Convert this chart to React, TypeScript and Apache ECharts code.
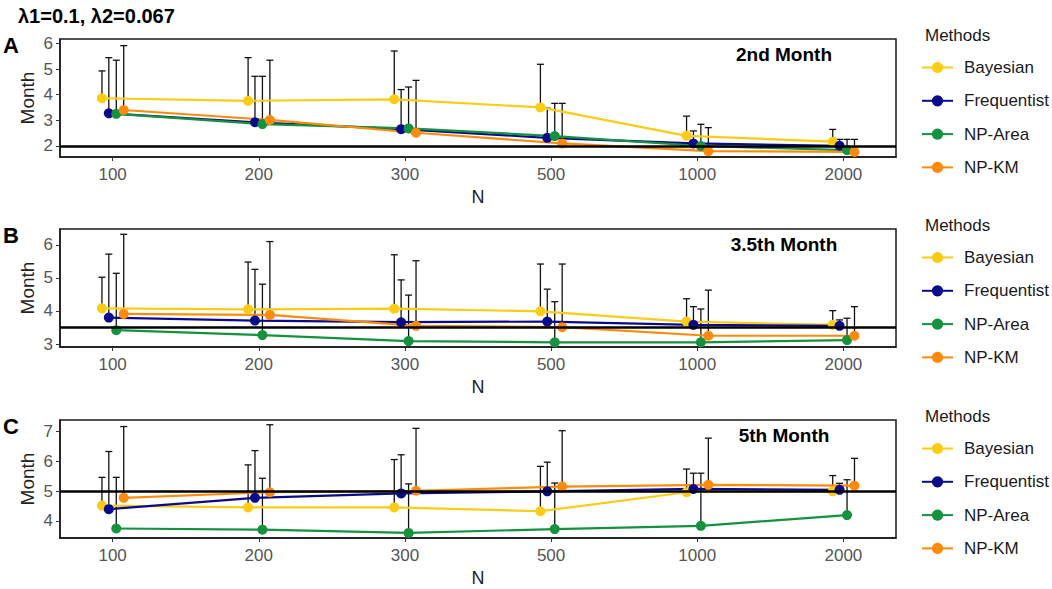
import React, { useEffect, useRef } from "react";
import * as echarts from "echarts";

const CATEGORIES = ["100", "200", "300", "500", "1000", "2000"];
const METHODS = ["Bayesian", "Frequentist", "NP-Area", "NP-KM"];
const COLORS = ["#FCCB14", "#0A0A8C", "#14923E", "#FF8A0A"];
const DODGE = [-0.073, -0.026, 0.025, 0.076];

const PANEL_TITLES = ["2nd Month", "3.5th Month", "5th Month"];
const PANEL_LETTERS = ["A", "B", "C"];
const TRUE_VALUES = [2, 3.5, 5];
const Y_TICKS_A = [2, 3, 4, 5, 6];
const Y_TICKS_B = [3, 4, 5, 6];
const Y_TICKS_C = [4, 5, 6, 7];
const Y_RANGE_A = [1.56, 6.18];
const Y_RANGE_B = [2.91, 6.48];
const Y_RANGE_C = [3.42, 7.39];

// Panel A (2nd month)
const A_BAY = [3.86, 3.76, 3.82, 3.5, 2.39, 2.16];
const A_FREQ = [3.27, 2.92, 2.65, 2.31, 2.09, 2.0];
const A_AREA = [3.25, 2.85, 2.68, 2.38, 1.99, 1.83];
const A_KM = [3.4, 3.01, 2.51, 2.09, 1.79, 1.76];
const A_BAY_UP = [4.93, 5.45, 5.71, 5.19, 3.16, 2.64];
const A_FREQ_UP = [5.45, 4.72, 4.2, 3.47, 2.58, 2.25];
const A_AREA_UP = [5.35, 4.72, 4.3, 3.66, 2.84, 2.25];
const A_KM_UP = [5.92, 5.35, 4.56, 3.66, 2.71, 2.25];

// Panel B (3.5th month)
const B_BAY = [4.08, 4.05, 4.07, 3.99, 3.68, 3.58];
const B_FREQ = [3.8, 3.71, 3.66, 3.68, 3.58, 3.55];
const B_AREA = [3.42, 3.27, 3.09, 3.05, 3.05, 3.12];
const B_KM = [3.91, 3.88, 3.55, 3.51, 3.25, 3.25];
const B_BAY_UP = [5.02, 5.48, 5.7, 5.42, 4.37, 4.01];
const B_FREQ_UP = [5.72, 5.26, 4.94, 4.66, 4.13, 3.73];
const B_AREA_UP = [5.14, 4.81, 4.48, 4.28, 4.06, 3.78];
const B_KM_UP = [6.32, 6.1, 5.52, 5.42, 4.63, 4.13];

// Panel C (5th month)
const C_BAY = [4.51, 4.45, 4.45, 4.32, 4.96, 4.99];
const C_FREQ = [4.39, 4.77, 4.92, 4.99, 5.07, 5.04];
const C_AREA = [3.74, 3.7, 3.59, 3.72, 3.83, 4.19];
const C_KM = [4.77, 4.96, 5.01, 5.15, 5.21, 5.18];
const C_BAY_UP = [5.46, 5.88, 6.06, 5.83, 5.74, 5.52];
const C_FREQ_UP = [6.33, 6.36, 6.22, 5.97, 5.6, 5.26];
const C_AREA_UP = [5.46, 5.43, 5.24, 5.27, 5.6, 5.38];
const C_KM_UP = [7.17, 7.23, 7.11, 7.03, 6.78, 6.1];

const PANELS = [
  { means: [A_BAY, A_FREQ, A_AREA, A_KM], ups: [A_BAY_UP, A_FREQ_UP, A_AREA_UP, A_KM_UP], ticks: Y_TICKS_A, range: Y_RANGE_A },
  { means: [B_BAY, B_FREQ, B_AREA, B_KM], ups: [B_BAY_UP, B_FREQ_UP, B_AREA_UP, B_KM_UP], ticks: Y_TICKS_B, range: Y_RANGE_B },
  { means: [C_BAY, C_FREQ, C_AREA, C_KM], ups: [C_BAY_UP, C_FREQ_UP, C_AREA_UP, C_KM_UP], ticks: Y_TICKS_C, range: Y_RANGE_C },
];

const FONT = "'Liberation Sans', Arial, sans-serif";
const GRID_TOPS = [39, 229, 420];
const GRID_H = 118;
const GRID_LEFT = 60;
const GRID_RIGHT_X = 896;

export default function App() {
  const ref = useRef<HTMLDivElement>(null);
  useEffect(() => {
    document.body.style.margin = "0";
    if (!ref.current) return;
    const chart = echarts.init(ref.current, undefined, { renderer: "svg" });

    const grids: any[] = [];
    const xAxes: any[] = [];
    const yAxes: any[] = [];
    const series: any[] = [];
    const legends: any[] = [];
    const graphics: any[] = [];

    graphics.push({
      type: "text",
      left: 18,
      top: 6,
      style: { text: "λ1=0.1, λ2=0.067", font: `bold 20px ${FONT}`, fill: "#000" },
    });

    PANELS.forEach((p, pi) => {
      const top = GRID_TOPS[pi];
      grids.push({
        left: GRID_LEFT,
        top,
        width: GRID_RIGHT_X - GRID_LEFT,
        height: GRID_H,
        show: true,
        borderColor: "#1a1a1a",
        borderWidth: 1.5,
        backgroundColor: "transparent",
      });
      xAxes.push({
        type: "value",
        gridIndex: pi,
        min: -0.36,
        max: 5.36,
        splitLine: { show: false },
        axisLine: { show: true, onZero: false, lineStyle: { color: "#1a1a1a", width: 1.5 } },
        axisTick: { show: true, length: 4, customValues: [0, 1, 2, 3, 4, 5], lineStyle: { color: "#333" } },
        axisLabel: {
          customValues: [0, 1, 2, 3, 4, 5],
          formatter: (v: number) => CATEGORIES[Math.round(v)] ?? "",
          color: "#555",
          fontSize: 17,
          fontFamily: FONT,
          margin: 9,
        },
      });
      yAxes.push({
        type: "value",
        gridIndex: pi,
        min: p.range[0],
        max: p.range[1],
        splitLine: { show: false },
        axisLine: { show: true, onZero: false, lineStyle: { color: "#1a1a1a", width: 1.5 } },
        axisTick: { show: true, length: 4, customValues: p.ticks, lineStyle: { color: "#333" } },
        axisLabel: {
          customValues: p.ticks,
          formatter: (v: number) => String(Math.round(v)),
          color: "#555",
          fontSize: 17,
          fontFamily: FONT,
          margin: 7,
        },
      });

      // reference line
      series.push({
        type: "line",
        name: "ref" + pi,
        xAxisIndex: pi,
        yAxisIndex: pi,
        data: [],
        silent: true,
        z: 1,
        markLine: {
          silent: true,
          symbol: "none",
          label: { show: false },
          lineStyle: { color: "#000", width: 2.6, type: "solid" },
          data: [{ yAxis: TRUE_VALUES[pi] }],
        },
      });

      // error bars
      const errData: number[][] = [];
      METHODS.forEach((_, mi) => {
        CATEGORIES.forEach((_, ci) => {
          errData.push([ci + DODGE[mi], p.means[mi][ci], p.ups[mi][ci]]);
        });
      });
      series.push({
        type: "custom",
        name: "err" + pi,
        xAxisIndex: pi,
        yAxisIndex: pi,
        z: 2,
        silent: true,
        encode: { x: 0, y: [1, 2] },
        data: errData,
        renderItem: (params: any, api: any) => {
          const x = api.value(0);
          const lo = api.coord([x, api.value(1)]);
          const hi = api.coord([x, api.value(2)]);
          const st = { stroke: "#111", lineWidth: 1.3 };
          return {
            type: "group",
            children: [
              { type: "line", shape: { x1: lo[0], y1: lo[1], x2: hi[0], y2: hi[1] }, style: st },
              { type: "line", shape: { x1: hi[0] - 3.5, y1: hi[1], x2: hi[0] + 3.5, y2: hi[1] }, style: st },
            ],
          };
        },
      });

      METHODS.forEach((m, mi) => {
        series.push({
          type: "line",
          name: m,
          xAxisIndex: pi,
          yAxisIndex: pi,
          z: 3,
          color: COLORS[mi],
          symbol: "circle",
          symbolSize: 10,
          lineStyle: { width: 2.2, color: COLORS[mi] },
          itemStyle: { color: COLORS[mi] },
          data: CATEGORIES.map((_, ci) => [ci + DODGE[mi], p.means[mi][ci]]),
        });
      });

      legends.push({
        data: METHODS,
        orient: "vertical",
        left: 921,
        top: top + 20,
        padding: 0,
        itemWidth: 31,
        itemHeight: 14,
        itemGap: 16.3,
        textStyle: { fontSize: 17, fontFamily: FONT, color: "#1a1a1a", padding: [0, 0, 0, 6] },
      });

      graphics.push({
        type: "text",
        x: 925,
        y: top - 4,
        style: { text: "Methods", font: `17px ${FONT}`, fill: "#1a1a1a", verticalAlign: "middle", align: "left" },
      });
      graphics.push({
        type: "text",
        x: 784,
        y: top + 15,
        style: { text: PANEL_TITLES[pi], font: `bold 19px ${FONT}`, fill: "#000", verticalAlign: "middle", align: "center" },
      });
      graphics.push({
        type: "text",
        x: 3,
        y: top + 6,
        style: { text: PANEL_LETTERS[pi], font: `bold 22px ${FONT}`, fill: "#000", verticalAlign: "middle", align: "left" },
      });
      graphics.push({
        type: "text",
        x: 27,
        y: top + GRID_H / 2,
        rotation: Math.PI / 2,
        style: { text: "Month", font: `19px ${FONT}`, fill: "#222", verticalAlign: "middle", align: "center" },
      });
      graphics.push({
        type: "text",
        x: (GRID_LEFT + GRID_RIGHT_X) / 2,
        y: top + GRID_H + 40,
        style: { text: "N", font: `18px ${FONT}`, fill: "#222", verticalAlign: "middle", align: "center" },
      });
    });

    chart.setOption({
      animation: false,
      backgroundColor: "#fff",
      grid: grids,
      xAxis: xAxes,
      yAxis: yAxes,
      legend: legends,
      series,
      graphic: graphics,
    });
    return () => chart.dispose();
  }, []);
  return <div ref={ref} style={{ width: 1052, height: 589 }} />;
}
